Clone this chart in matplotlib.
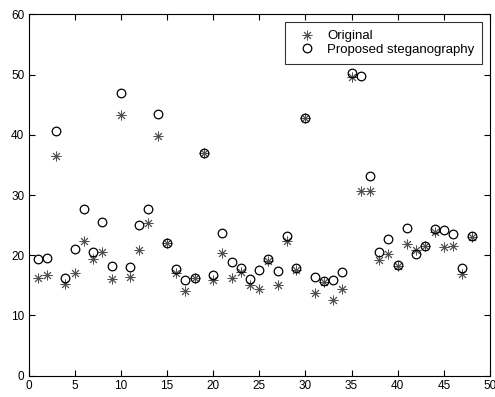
import matplotlib
matplotlib.use("Agg")
import matplotlib.pyplot as plt

plt.rcParams['font.family'] = ['Liberation Sans', 'DejaVu Sans']

x = list(range(1, 49))
original = [16.2, 16.8, 36.4, 15.2, 17.1, 22.4, 19.4, 20.5, 16.1, 43.3,
            16.4, 20.8, 25.4, 39.8, 22.0, 17.1, 14.0, 16.2, 36.9, 15.9,
            20.4, 16.3, 17.2, 15.1, 14.4, 19.1, 15.1, 22.3, 17.6, 42.8,
            13.7, 15.6, 12.6, 14.4, 49.6, 30.7, 30.6, 19.2, 20.2, 18.2,
            21.8, 20.9, 21.5, 23.8, 21.3, 21.6, 16.9, 23.1]
proposed = [19.4, 19.6, 40.7, 16.3, 21.0, 27.7, 20.5, 25.6, 18.2, 46.9,
            18.0, 25.1, 27.7, 43.4, 22.1, 17.7, 15.9, 16.3, 36.9, 16.8,
            23.7, 18.8, 17.8, 16.0, 17.6, 19.3, 17.4, 23.2, 17.9, 42.8,
            16.4, 15.8, 15.9, 17.2, 50.2, 49.7, 33.2, 20.5, 22.7, 18.3,
            24.6, 20.2, 21.5, 24.4, 24.2, 23.5, 17.8, 23.2]
labels = ["Original", "Proposed steganography"]
xticks = [0, 5, 10, 15, 20, 25, 30, 35, 40, 45, 50]
yticks = [0, 10, 20, 30, 40, 50, 60]

fig = plt.figure(figsize=(4.95, 3.97), dpi=100)
ax = fig.add_axes([28.5/495, 1-375.7/397, (490-28.5)/495, (375.7-14.3)/397])

ax.plot(x, original, linestyle='none', marker=(8, 2, 0), markersize=7,
        markeredgewidth=0.65, color='#505050', label=labels[0])
ax.plot(x, proposed, linestyle='none', marker='o', markersize=6.2,
        markerfacecolor='none', markeredgecolor='black', markeredgewidth=0.9,
        label=labels[1])

ax.set_xlim(0, 50)
ax.set_ylim(0, 60)
ax.set_xticks(xticks)
ax.set_yticks(yticks)
ax.tick_params(direction='in', length=4, width=0.8, top=True, right=True,
               labelsize=8.5, pad=3, colors='black')
for s in ax.spines.values():
    s.set_linewidth(0.8)
    s.set_color('black')

leg = ax.legend(loc='upper right', numpoints=1, fontsize=9.5, frameon=True,
                fancybox=False, handlelength=2.1, handletextpad=0.45,
                borderpad=0.6, labelspacing=0.1, borderaxespad=0.6)
leg.get_frame().set_edgecolor('black')
leg.get_frame().set_linewidth(0.8)

fig.savefig("out.png", dpi=100)
